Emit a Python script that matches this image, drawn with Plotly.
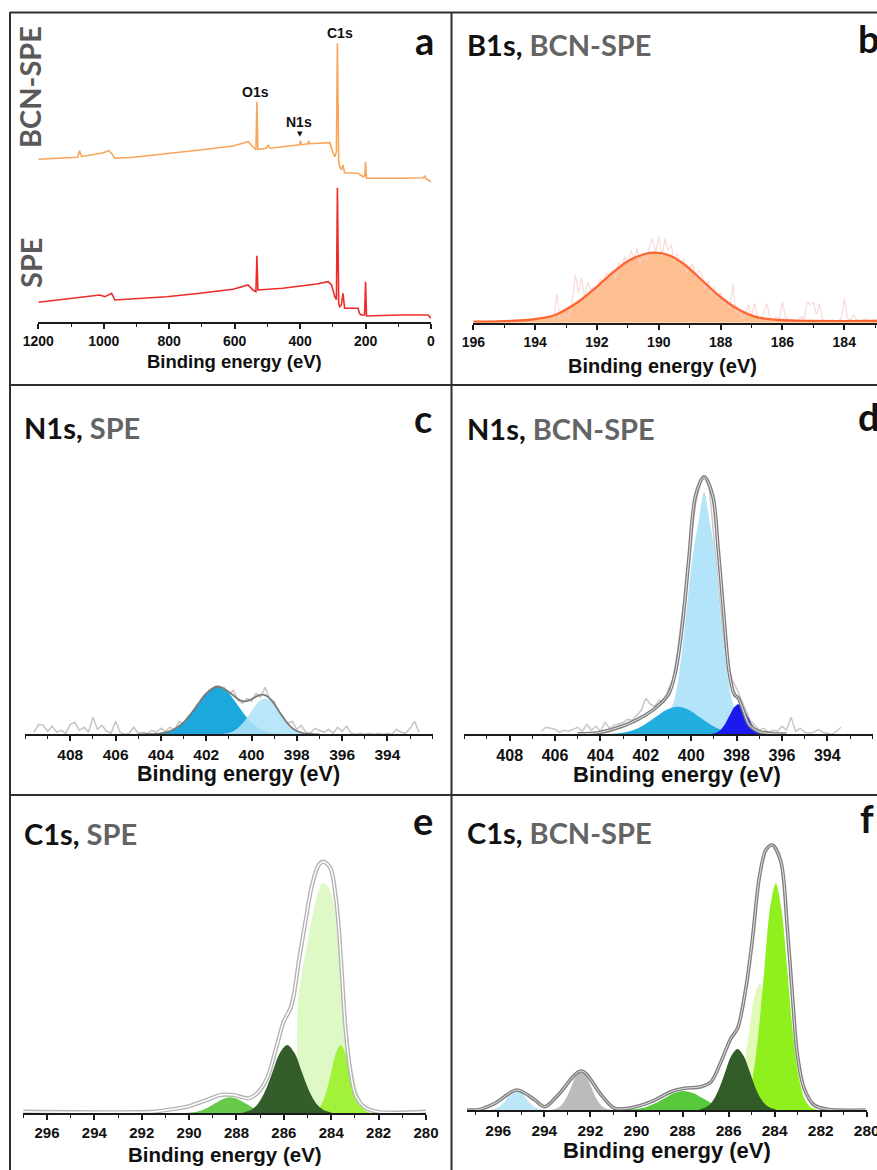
import plotly.graph_objects as go

W, H = 877, 1170

# ---------------- (a) survey spectra ----------------
a_bcn_x = [1200, 1080, 1074, 1068, 1001, 985, 975, 966, 909, 808, 706, 605, 559, 544, 535, 532, 529, 503, 497, 492,
           420, 401, 399, 396, 376, 374, 371, 350, 309, 299, 294, 289, 286, 282, 279, 274, 269, 264, 223, 208, 202,
           200, 197, 96, 22, 19, 15, 0]
a_bcn_y = [162.4, 164.5, 171, 165, 169, 171, 168, 163.4, 164.4, 167.7, 171.7, 175.7, 180, 175, 172, 220, 172.4, 173.4,
           176.7, 173.5, 176, 177, 181, 177, 178, 181, 178, 178.4, 179, 168.4, 165, 170, 278.4, 160, 155, 151.7, 156.7,
           149, 148.4, 145, 146, 160, 143.4, 143.4, 144, 146, 143, 140]
a_spe_x = [1200, 1012, 996, 985, 976, 966, 910, 808, 706, 605, 559, 544, 535, 532, 529, 453, 350, 314, 304, 294, 289,
           286, 282, 279, 274, 269, 264, 223, 218, 213, 203, 200, 197, 96, 9, 0]
a_spe_y = [19.4, 26.7, 25, 27, 28.4, 21.7, 22.7, 25, 28.4, 32.4, 36.7, 31.7, 30, 66, 31.7, 33.4, 37.7, 40, 36.7, 25, 22,
           134, 18, 15, 16.7, 28.4, 13.4, 13.4, 8, 6.7, 6.7, 40, 5.7, 6.7, 6.7, 3.4]
a_ticks = [1200, 1000, 800, 600, 400, 200, 0]

# ---------------- (b) B1s, BCN-SPE ----------------
b_fit_x = [196, 195.0, 194.22, 193.8, 193.36, 192.6, 192.06, 191.52, 190.99, 190.45, 190.12, 189.69, 189.15, 188.61,
           188.08, 187.54, 186.89, 186.14, 185.06, 182.94]
b_fit_y = [1.0, 1.5, 2.7, 4.5, 7.7, 21, 34.4, 49.4, 61.7, 68.7, 70, 67.7, 57.7, 42.7, 27.7, 15.4, 6, 2.7, 1.7, 1.7]
b_raw_x = [193.4, 193.3, 193.2, 193.1, 193.0, 192.9, 192.8, 192.7, 192.6, 192.5, 192.4, 192.3, 192.2, 192.1, 192.0,
           191.9, 191.8, 191.7, 191.6, 191.5, 191.4, 191.3, 191.2, 191.1, 191.0, 190.9, 190.8, 190.7, 190.6, 190.5,
           190.4, 190.3, 190.2, 190.1, 190.0, 189.9, 189.8, 189.7, 189.6, 189.5, 189.4, 189.3, 189.2, 189.1, 189.0,
           188.9, 188.8, 188.7, 188.6, 188.5, 188.4, 188.3, 188.2, 188.1, 188.0, 187.9, 187.8, 187.7, 187.6, 187.5,
           187.4, 187.3, 187.2, 187.1, 187.0, 186.9, 186.8, 186.7, 186.6, 186.5, 186.4, 186.3, 186.2, 186.1, 186.0,
           185.9, 185.8, 185.7, 185.6, 185.5, 185.4, 185.3, 185.2, 185.1, 185.0, 184.9, 184.8, 184.7, 184.6, 184.5,
           184.4, 184.3, 184.2, 184.1, 184.0, 183.9, 183.8, 183.7, 183.6, 183.5, 183.4, 183.3, 183.2, 183.1, 183.0,
           182.9]
b_raw_y = [2, 29, 4, 6, 8, 5, 22, 48, 30, 45, 26, 40, 33, 36, 30, 44, 38, 50, 46, 52, 44, 60, 56, 66, 60, 72, 64, 74,
           58, 70, 62, 76, 84, 70, 86, 66, 84, 72, 78, 62, 69, 58, 64, 50, 56, 58, 44, 52, 49, 34, 42, 28, 36, 24, 30,
           18, 22, 14, 38, 10, 12, 4, 8, 18, 6, 19, 5, 3, 12, 19, 4, 2, 6, 3, 21, 6, 2, 3, 1, 2, 6, 3, 21, 18, 20, 8,
           19, 3, 2, 1, 3, 2, 1, 4, 24, 5, 2, 8, 3, 1, 2, 4, 2, 1, 3, 2]
b_ticks = [196, 194, 192, 190, 188, 186, 184]

# ---------------- (c) N1s, SPE ----------------
c_raw_x = [409.6, 409.4, 409.2, 409.0, 408.8, 408.6, 408.4, 408.2, 408.0, 407.8, 407.6, 407.4, 407.2, 407.0, 406.8,
           406.6, 406.4, 406.2, 406.0, 405.8, 405.6, 405.4, 405.2, 405.0, 404.8, 404.6, 404.4, 404.2, 404.0, 403.8,
           403.6, 403.4, 403.2, 403.0, 402.8, 402.6, 402.4, 402.2, 402.0, 401.8, 401.6, 401.4, 401.2, 401.0, 400.8,
           400.6, 400.4, 400.2, 400.0, 399.8, 399.6, 399.4, 399.2, 399.0, 398.8, 398.6, 398.4, 398.2, 398.0, 397.8,
           397.6, 397.4, 397.2, 397.0, 396.8, 396.6, 396.4, 396.2, 396.0, 395.8, 395.6, 395.4, 395.2, 395.0, 394.8,
           394.6, 394.4, 394.2, 394.0, 393.8, 393.6, 393.4, 393.2, 393.0, 392.8, 392.6]
c_raw_y = [2, 10, 9, 3, 8, 2, 4, 1, 10, 12, 4, 7, 2, 17, 5, 9, 3, 1, 13, 2, 0, 1, 7, 1, 2, 1, 4, 2, 6, 3, 7, 4, 13, 10,
           18, 22, 30, 33, 39, 45, 48, 46, 47, 40, 44, 34, 31, 36, 33, 41, 37, 47, 35, 33, 22, 14, 11, 13, 5, 9, 2, 1,
           6, 4, 2, 5, 1, 7, 3, 8, 1, 0, 1, 0, 1, 0, 1, 0, 1, 0, 5, 2, 1, 6, 13, 2]
c_pk1_x = [404.65, 404.2, 403.75, 403.3, 402.85, 402.4, 401.95, 401.5, 401.05, 400.6, 400.15, 399.7, 399.25, 398.8, 398.35]
c_pk1_y = [0.1, 0.5, 2.1, 6.4, 15.5, 28.9, 42.0, 47.6, 42.0, 28.9, 15.5, 6.4, 2.1, 0.5, 0.1]
c_pk2_x = [401.64, 401.32, 401.0, 400.68, 400.36, 400.04, 399.72, 399.4, 399.08, 398.76, 398.44, 398.12, 397.8, 397.48, 397.16]
c_pk2_y = [0.1, 0.4, 1.6, 4.9, 11.7, 21.8, 31.8, 36, 31.8, 21.8, 11.7, 4.9, 1.6, 0.4, 0.1]
c_env_x = [405, 404.5, 404, 403.5, 403, 402.5, 402, 401.5, 401, 400.5, 400.25, 400, 399.75, 399.5, 399.25, 399, 398.75,
           398.5, 398.25, 398, 397.75, 397.5, 397]
c_env_y = [0, 0.2, 1.0, 4.0, 11.9, 25.7, 40.8, 47.8, 42.4, 33.9, 33.0, 35.1, 38.2, 39.6, 37.1, 30.6, 21.9, 13.6, 7.2,
           3.3, 1.3, 0.4, 0]
n_ticks = [408, 406, 404, 402, 400, 398, 396, 394]

# ---------------- (d) N1s, BCN-SPE ----------------
d_raw_x = [406.6, 406.4, 406.2, 406.0, 405.8, 405.6, 405.4, 405.2, 405.0, 404.8, 404.6, 404.4, 404.2, 404.0, 403.8,
           403.6, 403.4, 403.2, 403.0, 402.8, 402.6, 402.4, 402.2, 402.0, 401.8, 401.6, 401.4, 401.2, 401.0, 400.8,
           400.6, 400.4, 400.2, 400.0, 399.8, 399.6, 399.4, 399.2, 399.0, 398.8, 398.6, 398.4, 398.2, 398.0, 397.8,
           397.6, 397.4, 397.2, 397.0, 396.8, 396.6, 396.4, 396.2, 396.0, 395.8, 395.6, 395.4, 395.2, 395.0, 394.8,
           394.6, 394.4, 394.2, 394.0, 393.8, 393.6, 393.4]
d_raw_y = [3, 7, 6, 5, 2, 4, 3, 5, 7, 3, 10, 4, 8, 3, 12, 6, 9, 10, 12, 15, 14, 19, 24, 36, 30, 28, 34, 32, 45, 55, 82,
           120, 150, 198, 232, 252, 258, 246, 200, 148, 100, 72, 55, 46, 35, 24, 14, 9, 4, 6, 2, 4, 3, 8, 4, 17, 3, 6,
           2, 1, 2, 5, 2, 1, 0, 3, 7]
d_main_x = [401.5, 400.83, 400.69, 400.46, 400.24, 399.95, 399.65, 399.43, 399.21, 398.92, 398.7, 398.47, 398.25,
            397.96, 397.59, 397.2]
d_main_y = [2, 29, 39.3, 72.6, 116, 176, 216, 242.6, 216, 176, 116, 72.6, 39.3, 16, 2.6, 0]
d_mid_x = [403.6, 403.1, 402.6, 402.1, 401.6, 401.1, 400.6, 400.1, 399.6, 399.1, 398.6, 398.1, 397.6]
d_mid_y = [0.3, 1.2, 3.7, 9.0, 16.7, 24.4, 27.6, 24.4, 16.7, 9.0, 3.7, 1.2, 0.3]
d_low_x = [399.12, 398.92, 398.72, 398.52, 398.32, 398.12, 397.92, 397.72, 397.52, 397.32, 397.12, 396.92, 396.72]
d_low_y = [0.3, 1.3, 4.1, 9.7, 18.2, 26.5, 30, 26.5, 18.2, 9.7, 4.1, 1.3, 0.3]
d_env_x = [405.0, 404.08, 402.9, 402.01, 401.42, 400.98, 400.69, 400.39, 400.1, 399.8, 399.43, 399.06, 398.8, 398.55,
           398.33, 398.1, 397.92, 397.74, 397.44, 397.0, 396.41, 395.8]
d_env_y = [0.5, 1.6, 9.3, 19.3, 29.3, 41, 62.6, 109.3, 176, 239.3, 257.6, 239.3, 182.6, 116, 62.6, 40, 36, 26, 9.3,
           2.6, 0.6, 0.3]

# ---------------- (e) C1s, SPE ----------------
e_pale_x = [285.46, 285.45, 285.44, 285.4, 285.23, 284.95, 284.67, 284.52, 284.38, 284.25, 284.1, 283.89, 283.75,
            283.61, 283.47, 283.33, 283.11, 282.83, 282.48, 281.78]
e_pale_y = [0, 35, 85, 115, 141.6, 178.3, 211.6, 224, 230, 229, 225, 208.3, 178.3, 145, 111.6, 78.3, 45, 18.3, 5, 1]
e_bright_x = [284.8, 284.6, 284.4, 284.2, 284.0, 283.8, 283.6, 283.4, 283.2, 283.0, 282.8, 282.6, 282.4]
e_bright_y = [0.8, 3.0, 9.2, 22.2, 41.4, 60.3, 68.3, 60.3, 41.4, 22.2, 9.2, 3.0, 0.8]
e_dark_x = [287.72, 287.41, 287.1, 286.79, 286.48, 286.17, 285.86, 285.55, 285.24, 284.93, 284.62, 284.31, 284.0]
e_dark_y = [0.8, 3.0, 9.2, 22.2, 41.4, 60.3, 68.3, 60.3, 41.4, 22.2, 9.2, 3.0, 0.8]
e_med_x = [290.21, 289.89, 289.56, 289.24, 288.91, 288.59, 288.26, 287.94, 287.61, 287.29, 286.96, 286.64, 286.31]
e_med_y = [0.2, 0.7, 2.2, 5.2, 9.7, 14.1, 16, 14.1, 9.7, 5.2, 2.2, 0.7, 0.2]
e_env_x = [297, 291.5, 290.94, 290.09, 289.25, 288.68, 288.12, 287.49, 287.13, 286.71, 286.29, 286.01, 285.72, 285.58,
           285.37, 285.09, 284.81, 284.53, 284.32, 284.03, 283.82, 283.68, 283.54, 283.4, 283.19, 282.98, 282.62,
           282.06, 280]
e_env_y = [1.6, 1.6, 3.3, 6.6, 13.3, 18.3, 18.3, 15, 20, 35, 68.3, 91.6, 105, 118.3, 151.6, 191.6, 228.3, 248.3,
           251.6, 245, 218.3, 185, 135, 85, 41.6, 18.3, 6.6, 1.6, 1.6]
c_ticks = [296, 294, 292, 290, 288, 286, 284, 282, 280]

# ---------------- (f) C1s, BCN-SPE ----------------
f_lb_x = [296.4, 296.2, 296.0, 295.8, 295.6, 295.4, 295.2, 295.0, 294.8, 294.6, 294.4, 294.2, 294.0]
f_lb_y = [0.2, 0.9, 2.7, 6.5, 12.1, 17.7, 20, 17.7, 12.1, 6.5, 2.7, 0.9, 0.2]
f_gray_x = [293.66, 293.45, 293.24, 293.03, 292.82, 292.61, 292.4, 292.19, 291.98, 291.77, 291.56, 291.35, 291.14]
f_gray_y = [0.4, 1.7, 5.3, 12.7, 23.7, 34.4, 39, 34.4, 23.7, 12.7, 5.3, 1.7, 0.4]
f_med_x = [290.5, 290.08, 289.65, 289.23, 288.8, 288.38, 287.95, 287.53, 287.1, 286.68, 286.25, 285.83, 285.4]
f_med_y = [0.2, 0.8, 2.6, 6.2, 11.5, 16.8, 19, 16.8, 11.5, 6.2, 2.6, 0.8, 0.2]
f_dark_x = [287.26, 286.99, 286.71, 286.44, 286.16, 285.89, 285.61, 285.34, 285.06, 284.79, 284.51, 284.24, 283.96]
f_dark_y = [0.7, 2.7, 8.3, 19.8, 37, 53.8, 61, 53.8, 37, 19.8, 8.3, 2.7, 0.7]
f_pale_x = [286.02, 285.8, 285.57, 285.35, 285.12, 284.9, 284.67, 284.45, 284.22, 284.0, 283.77, 283.55, 283.32]
f_pale_y = [1.4, 5.5, 17, 40.8, 76.2, 110.9, 125.7, 110.9, 76.2, 40.8, 17, 5.5, 1.4]
f_bright_x = [285.74, 285.48, 285.23, 284.97, 284.72, 284.46, 284.21, 283.95, 283.7, 283.44, 283.19, 282.93, 282.68,
              282.42, 282.17]
f_bright_y = [0.5, 2.5, 10, 30.7, 73.6, 137.5, 200, 226.7, 200, 137.5, 73.6, 30.7, 10, 2.5, 0.5]
f_env_x = [297.37, 296.87, 296.14, 295.2, 294.41, 293.98, 293.4, 292.39, 291.53, 290.95, 290.23, 289.36, 288.5, 287.92,
           287.2, 286.76, 286.33, 285.9, 285.61, 285.25, 284.96, 284.67, 284.38, 284.1, 283.73, 283.45, 283.23, 283.01,
           282.72, 282.29, 281.71, 280.05]
f_env_y = [0, 0.3, 6.7, 20, 10, 3.3, 15, 39, 15, 1.7, 2.3, 8.3, 18.3, 21.7, 23.3, 28.3, 48.3, 71.7, 81.7, 121.7,
           171.7, 231.7, 260, 265, 248.3, 181.7, 115, 55, 21.7, 5, 0.7, 0]

# ---------------- figure ----------------
fig = go.Figure()


def px(x):
    return x / W


def py(y):
    return 1 - y / H


def curve(x, y, ax, color, width=2.0, fill=None, fillcolor=None, shape='spline'):
    tr = go.Scatter(x=x, y=y, mode='lines', xaxis='x' + ax, yaxis='y' + ax,
                    line=dict(color=color, width=width, shape=shape, smoothing=0.9),
                    hoverinfo='skip', showlegend=False)
    if fill:
        tr.fill = fill
        tr.fillcolor = fillcolor
    fig.add_trace(tr)


def comp(x, y, ax, color):
    curve(x, y, ax, 'rgba(0,0,0,0)', width=0, fill='tozeroy', fillcolor=color)


# (a)
curve(a_bcn_x, a_bcn_y, '', '#f8a65c', width=1.6, shape='linear')
curve(a_spe_x, a_spe_y, '', '#ee2b2b', width=1.6, shape='linear')

# (b)
comp(b_fit_x, b_fit_y, '2', '#fdbf8f')
curve(b_raw_x, b_raw_y, '2', 'rgba(248,208,208,0.8)', width=1.2, shape='linear')
curve(b_fit_x, b_fit_y, '2', '#ff6530', width=2.3)

# (c)
curve(c_raw_x, c_raw_y, '3', '#c4c4c4', width=1.5, shape='linear')
comp(c_pk1_x, c_pk1_y, '3', '#1ca8dc')
comp(c_pk2_x, c_pk2_y, '3', 'rgba(176,226,248,0.88)')
curve(c_env_x, c_env_y, '3', '#7a7a7a', width=1.8)

# (d)
curve(d_raw_x, d_raw_y, '4', '#c8c8c8', width=1.5, shape='linear')
comp(d_main_x, d_main_y, '4', '#b4e4f9')
comp(d_mid_x, d_mid_y, '4', '#22afe0')
comp(d_low_x, d_low_y, '4', '#1a1aee')
curve(d_env_x, d_env_y, '4', '#7d7d7d', width=3.6)
curve(d_env_x, d_env_y, '4', '#e6e6e6', width=1.0)

# (e)
comp(e_med_x, e_med_y, '5', '#66c94a')
comp(e_pale_x, e_pale_y, '5', '#dff9c6')
comp(e_bright_x, e_bright_y, '5', '#a2f23a')
comp(e_dark_x, e_dark_y, '5', '#355d2b')
curve(e_env_x, e_env_y, '5', '#b4b4b4', width=4.2)
curve(e_env_x, e_env_y, '5', '#ffffff', width=1.4)

# (f)
comp(f_lb_x, f_lb_y, '6', '#bde6f9')
comp(f_gray_x, f_gray_y, '6', '#bbbbbb')
comp(f_med_x, f_med_y, '6', '#58c93c')
comp(f_pale_x, f_pale_y, '6', '#e1fab8')
comp(f_bright_x, f_bright_y, '6', '#8ff01e')
comp(f_dark_x, f_dark_y, '6', '#315c28')
curve(f_env_x, f_env_y, '6', '#808080', width=3.6)
curve(f_env_x, f_env_y, '6', '#e0e0e0', width=1.0)

TICKFONT = 'Liberation Sans, Arial, sans-serif'


def xax(x0, x1, rng, ticks, minor_vals, yid, size):
    return dict(domain=[px(x0), px(x1)], range=rng, anchor=yid, automargin=False, showline=True,
                linecolor='#1a1a1a', linewidth=2, ticklabeloverflow='allow',
                ticks='outside', ticklen=5, tickwidth=1.5, tickcolor='#1a1a1a', tickmode='array', tickvals=ticks,
                ticktext=[str(t) for t in ticks],
                minor=dict(tickmode='array', tickvals=minor_vals, ticks='outside', ticklen=3, tickwidth=1.2,
                           tickcolor='#1a1a1a'),
                showgrid=False, zeroline=False, fixedrange=True,
                tickfont=dict(family=TICKFONT, size=size, color='#111111', weight='bold'))


def yax(y_axis_px, y_top_px, xid):
    return dict(domain=[py(y_axis_px), py(y_top_px)], range=[0, y_axis_px - y_top_px], anchor=xid, visible=False,
                automargin=False, showgrid=False, zeroline=False, fixedrange=True)


a_minor = [1100, 900, 700, 500, 300, 100]
b_minor = [195, 193, 191, 189, 187, 185, 183]
n_minor = [410, 409, 407, 405, 403, 401, 399, 397, 395, 393, 392]
e_minor = [297, 295, 293, 291, 289, 287, 285, 283, 281]

fig.update_layout(
    width=W, height=H, margin=dict(l=0, r=0, t=0, b=0, autoexpand=False), paper_bgcolor='white',
    plot_bgcolor='white',
    xaxis=xax(38.3, 431, [1200, 0], a_ticks, a_minor, 'y', 14),
    yaxis=yax(321.7, 13, 'x'),
    xaxis2=xax(473.3, 877, [196, 182.94], b_ticks, b_minor, 'y2', 14),
    yaxis2=yax(322.7, 13, 'x2'),
    xaxis3=xax(25, 432.7, [410, 392], n_ticks, n_minor, 'y3', 15.5),
    yaxis3=yax(734.3, 387, 'x3'),
    xaxis4=xax(464.3, 872.7, [410, 392], n_ticks, n_minor, 'y4', 16),
    yaxis4=yax(734.3, 387, 'x4'),
    xaxis5=xax(23.3, 426, [297, 280], c_ticks, e_minor, 'y5', 15),
    yaxis5=yax(1113.3, 797, 'x5'),
    xaxis6=xax(466.7, 867, [297.37, 279.99], c_ticks, e_minor, 'y6', 15.5),
    yaxis6=yax(1110, 797, 'x6'),
)

# frame lines
FRAME = '#2e2e2e'
for (x0, y0, x1, y1) in [(10, 12.5, 877, 12.5), (10, 12, 10, 1170), (451.5, 12, 451.5, 1170),
                         (10, 385, 877, 385), (10, 795, 877, 795)]:
    fig.add_shape(type='line', xref='paper', yref='paper', x0=px(x0), y0=py(y0), x1=px(x1), y1=py(y1),
                  line=dict(color=FRAME, width=2))

TITLEFONT = 'Lato, Open Sans, sans-serif'
GRAY = '#646464'


def note(x, y, text, size, family=TITLEFONT, xanchor='left', yanchor='middle', angle=0, color='#111111'):
    fig.add_annotation(x=px(x), y=py(y), xref='paper', yref='paper', text=text, showarrow=False,
                       xanchor=xanchor, yanchor=yanchor, textangle=angle,
                       font=dict(family=family, size=size, color=color))


# panel titles
note(22, 427, "<b>N1s, <span style='color:%s'>SPE</span></b>" % GRAY, 29)
note(465, 45, "<b>B1s, <span style='color:%s'>BCN-SPE</span></b>" % GRAY, 29)
note(465, 428, "<b>N1s, <span style='color:%s'>BCN-SPE</span></b>" % GRAY, 29)
note(22, 833, "<b>C1s, <span style='color:%s'>SPE</span></b>" % GRAY, 29)
note(465, 832, "<b>C1s, <span style='color:%s'>BCN-SPE</span></b>" % GRAY, 29)

# panel letters (b, d and f sit at the right edge and are cut, as in the source figure)
for (x, y, t) in [(424, 40, 'a'), (869, 38, 'b'), (423, 418, 'c'), (869, 416, 'd'), (423, 820, 'e'), (867, 818, 'f')]:
    note(x, y, '<b>%s</b>' % t, 38, xanchor='center')

# survey labels
note(30, 87, '<b>BCN-SPE</b>', 29, angle=-90, xanchor='center', color='#595959')
note(30, 263, '<b>SPE</b>', 29, angle=-90, xanchor='center', color='#595959')
note(340, 33, '<b>C1s</b>', 14, family=TICKFONT, xanchor='center')
note(255, 92, '<b>O1s</b>', 14, family=TICKFONT, xanchor='center')
note(299, 122, '<b>N1s</b>', 14, family=TICKFONT, xanchor='center')
note(300, 134, '▼', 7, family='DejaVu Sans', xanchor='center')

# axis titles
for (x, y, s) in [(234, 361, 18.5), (662, 366, 20), (238, 774, 21.5), (677, 774, 22), (225, 1154, 20.5),
                  (667, 1150, 22)]:
    note(x, y, '<b>Binding energy (eV)</b>', s, family=TICKFONT, xanchor='center')

fig.write_html('out.html')
